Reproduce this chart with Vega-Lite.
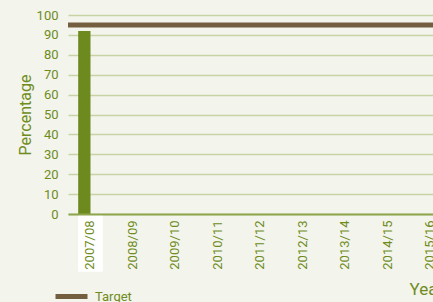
{
  "$schema": "https://vega.github.io/schema/vega-lite/v6.json",
  "autosize": "none",
  "width": 365,
  "height": 199,
  "padding": {"left": 68, "top": 15, "right": 0, "bottom": 88},
  "background": "#f3f4ec",
  "config": {
    "view": {"stroke": null},
    "font": "Roboto, sans-serif"
  },
  "datasets": {
    "bars": [
      {"year": "2007/08", "series": "Actual", "value": 92}
    ],
    "highlight": [
      {"year": "2007/08", "top": -0.5, "bottom": -29}
    ],
    "target": [
      {"label": "Target", "value": 95}
    ]
  },
  "layer": [
    {
      "data": {"name": "bars"},
      "mark": {"type": "bar", "color": "#6d8a1f"},
      "encoding": {
        "x": {
          "field": "year",
          "type": "nominal",
          "sort": null,
          "scale": {
            "domain": ["2007/08", "2008/09", "2009/10", "2010/11", "2011/12", "2012/13", "2013/14", "2014/15", "2015/16", "2016/17"],
            "range": [0, 427],
            "paddingInner": 0.42,
            "paddingOuter": 0.24
          },
          "axis": {
            "title": "Year",
            "zindex": 1,
            "grid": false,
            "ticks": false,
            "domainColor": "#8ea54e",
            "domainWidth": 2,
            "labelAngle": -90,
            "labelFontSize": 13,
            "labelColor": "#6f8c1d",
            "labelPadding": 6,
            "labelFlush": false,
            "labelOverlap": false,
            "titleFontSize": 17,
            "titleColor": "#6f8c1d",
            "titleFontWeight": "normal",
            "titleAlign": "left",
            "titleAnchor": "start",
            "titleX": 341,
            "titleY": 80,
            "titleBaseline": "alphabetic"
          }
        },
        "xOffset": {
          "field": "series",
          "type": "nominal",
          "scale": {"domain": ["Actual", "Other"]}
        },
        "y": {
          "field": "value",
          "type": "quantitative",
          "scale": {"domain": [0, 100], "nice": false},
          "axis": {
            "title": "Percentage",
            "values": [0, 10, 20, 30, 40, 50, 60, 70, 80, 90, 100],
            "tickCount": 11,
            "labelOverlap": false,
            "domain": false,
            "ticks": false,
            "gridColor": "#c8d3a5",
            "gridWidth": 1.5,
            "labelFontSize": 13,
            "labelColor": "#6f8c1d",
            "labelPadding": 10,
            "titleFontSize": 16,
            "titleColor": "#6f8c1d",
            "titleFontWeight": "normal",
            "titleX": -43,
            "titleBaseline": "middle"
          }
        }
      }
    },
    {
      "data": {"name": "highlight"},
      "mark": {"type": "bar", "color": "#ffffff"},
      "encoding": {
        "x": {"field": "year", "type": "nominal"},
        "y": {"field": "top", "type": "quantitative"},
        "y2": {"field": "bottom"}
      }
    },
    {
      "data": {"name": "target"},
      "mark": {"type": "rule", "strokeWidth": 5},
      "encoding": {
        "y": {"field": "value", "type": "quantitative"},
        "color": {
          "field": "label",
          "type": "nominal",
          "scale": {"domain": ["Target"], "range": ["#735f40"]},
          "legend": {
            "title": null,
            "orient": "none",
            "legendX": -15,
            "legendY": 263,
            "symbolType": "stroke",
            "symbolSize": 1024,
            "symbolStrokeWidth": 5,
            "labelFontSize": 13,
            "labelColor": "#6f8c1d",
            "labelOffset": 5,
            "padding": 0
          }
        }
      }
    }
  ]
}
